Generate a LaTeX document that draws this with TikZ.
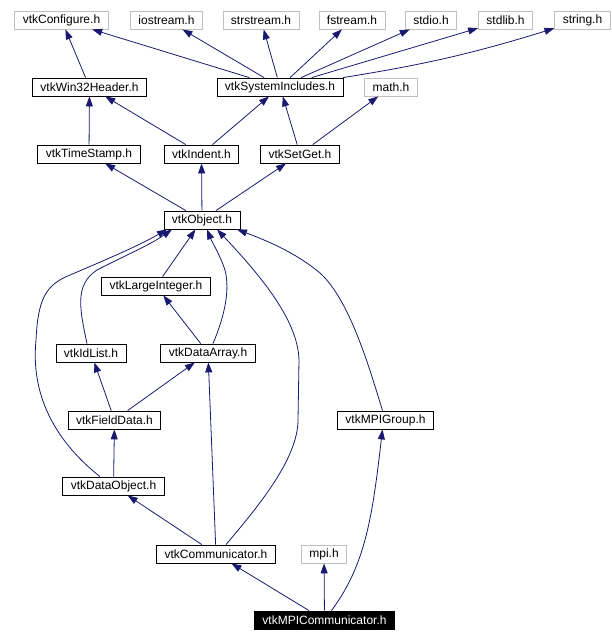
\documentclass[tikz,border=0pt]{standalone}
\usepackage{fontspec}
\setmainfont{Liberation Sans}
\usetikzlibrary{arrows.meta}
\definecolor{edgeblue}{RGB}{25,25,112}
\definecolor{extgray}{RGB}{191,191,191}
\tikzstyle{hdr}=[rectangle, draw=black, line width=0.8pt, fill=white, inner xsep=8pt, inner ysep=0pt, minimum height=18pt, font=\fontsize{12}{14}\selectfont]
\tikzstyle{ext}=[hdr, draw=extgray]
\tikzstyle{main}=[hdr, fill=black, text=white]
\tikzstyle{inc}=[draw=edgeblue, line width=0.8pt, -{Triangle[length=10pt,width=7pt]}, color=edgeblue]
\begin{document}
\begin{tikzpicture}[x=1pt, y=-1pt]
    \useasboundingbox (0,0) rectangle (612,642);
    \node[ext] (configure) at (61.5,20) {vtkConfigure.h};
    \node[ext] (iostream) at (166.5,20) {iostream.h};
    \node[ext] (strstream) at (261,20) {strstream.h};
    \node[ext] (fstream) at (352,20) {fstream.h};
    \node[ext] (stdio) at (431,20) {stdio.h};
    \node[ext] (stdlib) at (505.5,20) {stdlib.h};
    \node[ext] (string) at (582.5,20) {string.h};
    \node[hdr] (win32) at (89.5,87) {vtkWin32Header.h};
    \node[hdr] (sysinc) at (280,87) {vtkSystemIncludes.h};
    \node[ext] (math) at (391,87) {math.h};
    \node[hdr] (timestamp) at (89,154) {vtkTimeStamp.h};
    \node[hdr] (indent) at (201.5,154) {vtkIndent.h};
    \node[hdr] (setget) at (300,154) {vtkSetGet.h};
    \node[hdr] (object) at (202,220) {vtkObject.h};
    \node[hdr] (largeint) at (156,286) {vtkLargeInteger.h};
    \node[hdr] (idlist) at (91,353) {vtkIdList.h};
    \node[hdr] (dataarray) at (208,353) {vtkDataArray.h};
    \node[hdr] (fielddata) at (114.5,420) {vtkFieldData.h};
    \node[hdr] (mpigroup) at (385.5,420) {vtkMPIGroup.h};
    \node[hdr] (dataobject) at (113.5,486) {vtkDataObject.h};
    \node[hdr] (comm) at (216,554) {vtkCommunicator.h};
    \node[ext] (mpi) at (324,554) {mpi.h};
    \node[main] (mpicomm) at (324.5,620) {vtkMPICommunicator.h};
    \draw[inc] (win32) -- (configure);
    \draw[inc] (sysinc) -- (configure);
    \draw[inc] (sysinc) -- (iostream);
    \draw[inc] (sysinc) -- (strstream);
    \draw[inc] (sysinc) -- (fstream);
    \draw[inc] (sysinc) -- (stdio);
    \draw[inc] (sysinc) -- (stdlib);
    \draw[inc] (sysinc) to[bend right=4] (string);
    \draw[inc] (timestamp) -- (win32);
    \draw[inc] (indent) -- (win32);
    \draw[inc] (indent) -- (sysinc);
    \draw[inc] (setget) -- (sysinc);
    \draw[inc] (setget) -- (math);
    \draw[inc] (object) -- (timestamp);
    \draw[inc] (object) -- (indent);
    \draw[inc] (object) -- (setget);
    \draw[inc] (largeint) -- (object);
    \draw[inc] ([xshift=-4pt]idlist.north) .. controls (80,310) and (74,285) .. (97,270) .. controls (120,258) and (150,245) .. ([xshift=-30pt]object.south);
    \draw[inc] ([xshift=5pt]dataarray.north) .. controls (225,315) and (230,290) .. (225,270) .. controls (220,255) and (212,242) .. ([xshift=5pt]object.south);
    \draw[inc] (dataarray) -- (largeint);
    \draw[inc] (fielddata) -- (idlist);
    \draw[inc] (fielddata) -- (dataarray);
    \draw[inc] ([xshift=-13.5pt]dataobject.north) .. controls (60,445) and (30,400) .. (36,340) .. controls (38,300) and (45,285) .. (70,275) .. controls (110,258) and (140,245) .. ([xshift=-35pt]object.south);
    \draw[inc] (dataobject) -- (fielddata);
    \draw[inc] ([xshift=10pt]comm.north) .. controls (255,510) and (298,460) .. (298,420) -- (299,360) .. controls (298,320) and (260,275) .. ([xshift=15pt]object.south);
    \draw[inc] (comm) -- (dataarray);
    \draw[inc] (comm) -- (dataobject);
    \draw[inc] ([xshift=-3pt]mpigroup.north) .. controls (370,370) and (350,300) .. (320,273) .. controls (295,252) and (265,240) .. ([xshift=35pt]object.south);
    \draw[inc] (mpicomm) -- (comm);
    \draw[inc] (mpicomm) -- (mpi);
    \draw[inc] ([xshift=7pt]mpicomm.north) .. controls (365,565) and (372,520) .. ([xshift=-3pt]mpigroup.south);
\end{tikzpicture}
\end{document}
